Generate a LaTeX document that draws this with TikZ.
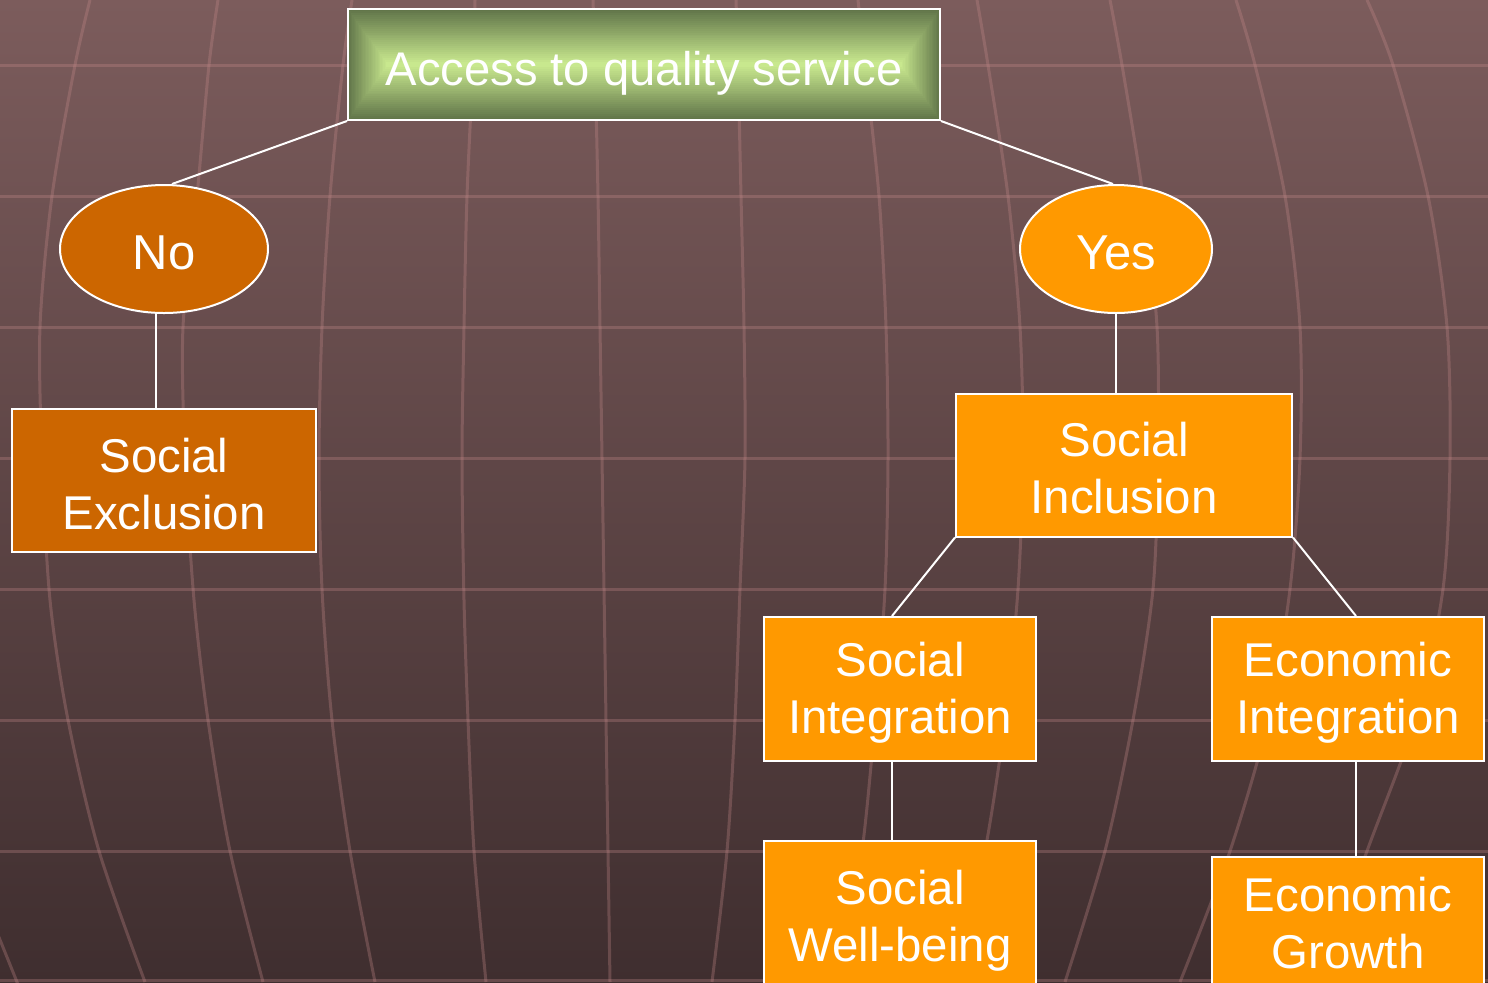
\documentclass[tikz,border=0pt]{standalone}
\usepackage{fontspec}
\setmainfont{Liberation Sans}
\usetikzlibrary{shapes.geometric}
\definecolor{bgtop}{RGB}{124,92,92}
\definecolor{bgbot}{RGB}{63,46,47}
\definecolor{gridc}{RGB}{200,140,140}
\definecolor{orD}{RGB}{204,102,0}
\definecolor{orL}{RGB}{255,153,0}
\definecolor{grD}{RGB}{98,118,74}
\definecolor{grL}{RGB}{200,232,142}
\newcommand{\padtop}[1]{\rule{0pt}{#1}}
\newcommand{\padbot}[1]{\rule[-#1]{0pt}{#1}}
\tikzset{
  gridline/.style={draw=gridc, draw opacity=0.3, line width=1.5pt},
  conn/.style={draw=white, line width=1pt},
  boxbase/.style={draw=white, line width=1pt, align=center, text=white, inner sep=0pt,
    font=\fontsize{23.7}{28.5}\selectfont},
  darkbox/.style={boxbase, rectangle, fill=orD},
  lightbox/.style={boxbase, rectangle, fill=orL},
  darkoval/.style={boxbase, ellipse, fill=orD, font=\fontsize{24.5}{29}\selectfont},
  lightoval/.style={boxbase, ellipse, fill=orL, font=\fontsize{24.5}{29}\selectfont},
  titlebox/.style={boxbase, rectangle, font=\fontsize{23.6}{28}\selectfont,
    minimum width=296pt, minimum height=55.5pt}
}
\begin{document}
\begin{tikzpicture}[x=0.5pt,y=-0.5pt]
\useasboundingbox (0,0) rectangle (1488,982);
\clip (0,0) rectangle (1488,982);
\shade[top color=bgtop,bottom color=bgbot] (0,0) rectangle (1488,982);
% globe grid
\begin{scope}[gridline]
\foreach \yy in {65,196,327,458,589,720,851,980} \draw (0,\yy) -- (1488,\yy);
\draw plot[smooth] coordinates {(-10,915) (17,982) (22,995)};
\draw plot[smooth] coordinates {(90,0) (75,65) (52,196) (40,327) (42,458) (50,600) (68,720) (99,851) (145,982)};
\draw plot[smooth] coordinates {(218,0) (209,65) (197,196) (183,327) (185,458) (194,600) (208,720) (230,851) (263,982)};
\draw plot[smooth] coordinates {(352,0) (343,65) (330,196) (322,327) (319,458) (322,589) (332,720) (350,851) (375,982)};
\draw plot[smooth] coordinates {(475,0) (473,65) (467,196) (464,327) (462,458) (464,600) (468,720) (474,851) (486,982)};
\draw plot[smooth] coordinates {(593,0) (595,65) (598,196) (600,327) (602,458) (604,589) (606,720) (608,851) (610,982)};
\draw plot[smooth] coordinates {(736,0) (738,65) (741,196) (744,327) (745,458) (740,589) (735,720) (727,851) (712,982)};
\draw plot[smooth] coordinates {(858,0) (865,65) (879,196) (886,327) (888,458) (885,589) (875,720) (862,851) (840,982)};
\draw plot[smooth] coordinates {(977,0) (988,65) (1008,196) (1020,327) (1023,458) (1018,589) (1005,720) (985,851) (955,982)};
\draw plot[smooth] coordinates {(1110,0) (1122,65) (1143,196) (1157,327) (1158,458) (1153,589) (1133,720) (1105,851) (1065,982)};
\draw plot[smooth] coordinates {(1236,0) (1255,65) (1285,196) (1300,327) (1300,458) (1290,589) (1268,720) (1230,851) (1180,982)};
\draw plot[smooth] coordinates {(1367,0) (1393,65) (1428,196) (1447,327) (1450,458) (1443,589) (1415,720) (1367,851) (1320,982)};
\end{scope}
% title gradient
\foreach \i in {0,...,27}{
  \pgfmathsetmacro{\hw}{296-38*\i/27}
  \pgfmathsetmacro{\hh}{55.5-53*\i/27}
  \pgfmathtruncatemacro{\pc}{100*\i/27}
  \fill[grL!\pc!grD] (644-\hw,64.5-\hh) rectangle (644+\hw,64.5+\hh);
}
\node[titlebox] (title) at (644,64.5) {\padtop{25.5pt}Access to quality service};
% nodes
\node[darkoval, minimum width=104pt, minimum height=64pt] (no) at (164,249) {\padtop{20.5pt}No};
\node[lightoval, minimum width=96pt, minimum height=64pt] (yes) at (1116,249) {\padtop{20.5pt}Yes};
\node[darkbox, minimum width=152pt, minimum height=71.5pt] (excl) at (164,480.5) {\padtop{20.5pt}Social\\Exclusion};
\node[lightbox, minimum width=168pt, minimum height=71.5pt] (incl) at (1124,465) {\padtop{20.5pt}Social\\Inclusion};
\node[lightbox, minimum width=136pt, minimum height=72pt] (socint) at (900,689) {\padtop{20.5pt}Social\\Integration};
\node[lightbox, minimum width=136pt, minimum height=72pt] (ecoint) at (1348,689) {\padtop{20.5pt}Economic\\Integration};
\node[lightbox, minimum width=136pt, minimum height=72pt] (wellb) at (900,913) {\padtop{24.5pt}Social\\Well-being};
\node[lightbox, minimum width=136pt, minimum height=72pt] (growth) at (1348,929) {Economic\\Growth\padbot{6pt}};
% connectors
\draw[conn] (title.south west) -- ([xshift=4pt]no.north);
\draw[conn] (title.south east) -- ([xshift=-1.5pt]yes.north);
\draw[conn] ([xshift=-4pt]no.south) -- ([xshift=-4pt]excl.north);
\draw[conn] (yes.south) -- ([xshift=-4pt]incl.north);
\draw[conn] (incl.south west) -- ([xshift=-4pt]socint.north);
\draw[conn] (incl.south east) -- ([xshift=4pt]ecoint.north);
\draw[conn] ([xshift=-4pt]socint.south) -- ([xshift=-4pt]wellb.north);
\draw[conn] ([xshift=4pt]ecoint.south) -- ([xshift=4pt]growth.north);
\end{tikzpicture}
\end{document}
